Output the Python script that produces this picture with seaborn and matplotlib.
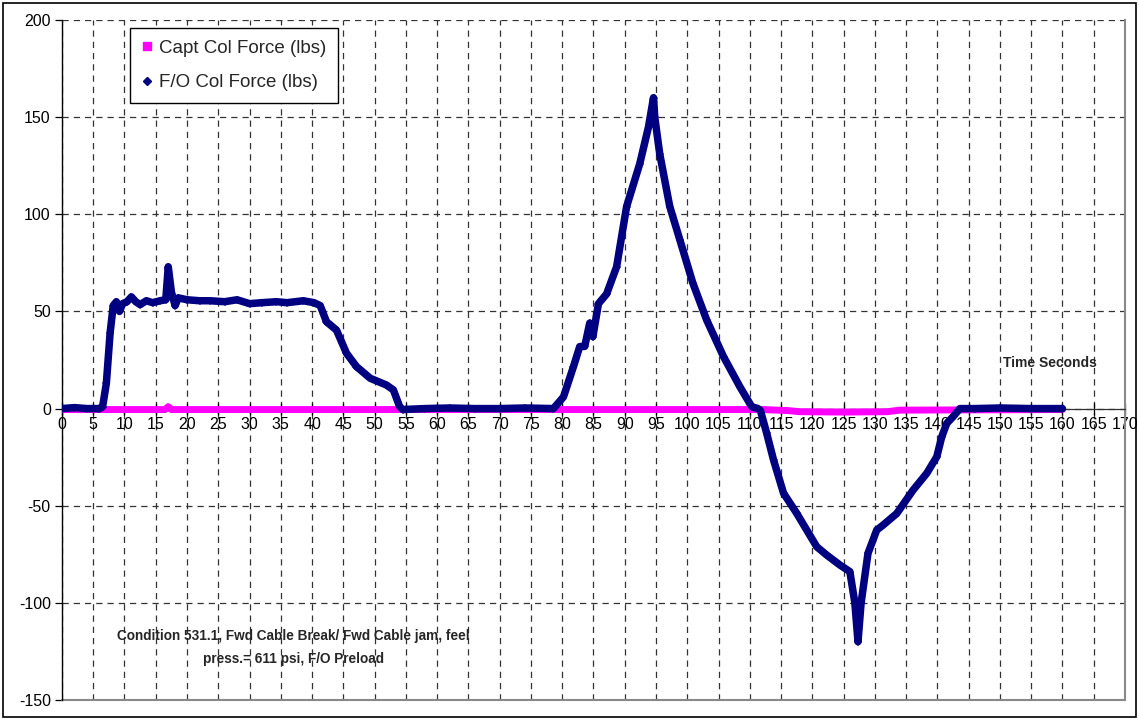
import numpy as np
import pandas as pd
import seaborn as sns
import matplotlib.pyplot as plt
from matplotlib.lines import Line2D
from matplotlib.patches import Rectangle

# F/O column force (lbs)
fo_time = [0, 2, 4, 6, 6.5, 7.1, 7.7, 8.2, 8.7, 9.2, 9.7, 10.4, 11.1, 11.8, 12.5,
           13.5, 14.5, 15.7, 16.6, 17.0, 17.5, 18.1, 18.6, 20, 22, 23.7, 26, 28,
           30, 32, 34.3, 36, 38.6, 40.3, 41.3, 42.3, 43.9, 45.5, 47.1, 49.3, 51.9,
           53, 54, 54.5, 58, 62, 66, 70, 74, 78.6, 80.2, 81.8, 82.8, 83.6, 84.4,
           84.9, 85.8, 87.1, 88.7, 90.3, 92.4, 93.8, 94.6, 94.8, 95.6, 97.2, 98.8,
           100.9, 103.1, 105.8, 108.4, 110.3, 111.3, 111.7, 112.7, 113.8, 115.4,
           117.5, 120.7, 122.3, 124.4, 126.0, 126.8, 127.3, 127.8, 128.9, 130.3,
           131.3, 133.5, 136.1, 138.3, 139.9, 140.7, 141.5, 142.5, 143.6, 146,
           150, 155, 160]
fo_force = [0, 0.5, 0, 0, 1, 13, 39, 53, 55, 50, 54, 55, 57.5, 55, 53.5,
            55.5, 54.5, 55.5, 56, 73, 60, 53, 57, 56, 55.5, 55.5, 55, 56,
            54, 54.5, 55, 54.5, 55.5, 54.5, 53, 44.7, 40.4, 28.5, 21.6, 15.6, 12.1,
            9.6, 1, -0.5, 0, 0.3, 0, 0, 0.3, 0, 6, 21.6, 31.9, 32, 44,
            37, 54, 59, 73, 104, 126, 145, 160, 150, 131, 104, 87,
            64.5, 45.6, 26.7, 11.3, 1, 0, -1, -12.7, -26.5, -43.6,
            -53.9, -71.1, -75.4, -80.5, -83.9, -100, -120, -100, -74.5, -62.5,
            -60, -54, -42, -33.3, -24.8, -14.5, -7.6, -4.2, 0, 0,
            0.3, 0, 0]

# Captain column force (lbs)
capt_time = [0, 16.5, 17, 17.5, 112, 116, 118, 125, 132, 134, 160]
capt_force = [-0.5, -0.5, 1, -0.5, -0.5, -1, -1.6, -1.8, -1.6, -0.8, -0.5]

x_ticks = list(range(0, 175, 5))
y_ticks = [-150, -100, -50, 0, 50, 100, 150, 200]

fo = pd.DataFrame({'t': fo_time, 'force': fo_force})
capt = pd.DataFrame({'t': capt_time, 'force': capt_force})

sns.set_theme(style="white")
plt.rcParams['font.family'] = ['Liberation Sans', 'DejaVu Sans']
plt.rcParams['axes.unicode_minus'] = False

fig = plt.figure(figsize=(11.39, 7.19), dpi=100)
ax = fig.add_axes([0.0544, 0.0264, 0.9333, 0.9458])

sns.lineplot(data=capt, x='t', y='force', ax=ax, color='#FF00FF',
             linewidth=5.0, estimator=None, sort=False, zorder=3)
sns.lineplot(data=fo, x='t', y='force', ax=ax, color='#000080',
             linewidth=5.4, marker='D', markersize=4.5, markeredgewidth=0,
             estimator=None, sort=False, zorder=4)

ax.set_xlim(0, 170)
ax.set_ylim(-150, 200)
ax.set_xticks(x_ticks)
ax.set_yticks(y_ticks)
ax.set_xlabel('')
ax.set_ylabel('')

ax.grid(True, linestyle=(0, (5, 4)), color='#333333', linewidth=0.9)
ax.set_axisbelow(True)

ax.spines['bottom'].set_position(('data', 0))
ax.spines['bottom'].set_color('#333333')
ax.spines['bottom'].set_linewidth(0.9)
ax.spines['left'].set_color('black')
ax.spines['left'].set_linewidth(1.0)
ax.spines['top'].set_visible(False)
ax.spines['right'].set_color('#888888')
ax.spines['right'].set_linewidth(1.5)
ax.axhline(-150, color='#888888', linewidth=1.5, zorder=1, clip_on=False)

ax.tick_params(axis='x', direction='inout', length=8, width=0.9,
               labelsize=11.5, pad=2, colors='black', bottom=True)
ax.tick_params(axis='y', direction='out', length=5, width=0.9,
               labelsize=11.5, pad=3, colors='black', left=True)

handles = [
    Line2D([], [], linestyle='none', marker='s', markersize=6,
           color='#FF00FF', label='Capt Col Force (lbs)'),
    Line2D([], [], linestyle='none', marker='D', markersize=4.5,
           color='#000080', label='F/O Col Force (lbs)'),
]
leg = ax.legend(handles=handles, loc='upper left', bbox_to_anchor=(0.064, 0.988),
                borderaxespad=0, fontsize=13.5, frameon=True, fancybox=False,
                framealpha=1, edgecolor='black', handlelength=0.6,
                handletextpad=0.35, labelspacing=0.95, borderpad=0.6)
leg.get_frame().set_linewidth(1.0)

ax.text(158.0, 23.5, 'Time Seconds', fontsize=10, fontweight='bold',
        ha='center', va='center')
ax.text(37.0, -123, 'Condition 531.1, Fwd Cable Break/ Fwd Cable jam, feel\n'
        'press.= 611 psi, F/O Preload', fontsize=9.8, fontweight='bold',
        ha='center', va='center', linespacing=1.75)

fig.patches.append(Rectangle((0.003, 0.003), 0.994, 0.993, transform=fig.transFigure,
                             fill=False, edgecolor='black', linewidth=1.2))

fig.savefig('out.png', dpi=100)
